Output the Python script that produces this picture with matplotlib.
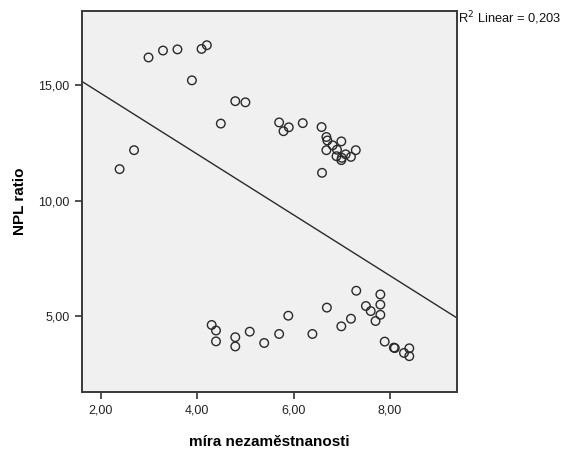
import matplotlib
matplotlib.use("Agg")
import matplotlib.pyplot as plt
from matplotlib.ticker import FuncFormatter

plt.rcParams['font.family'] = ['Liberation Sans', 'DejaVu Sans']

# Data
unemployment = [2.39, 2.69, 2.99, 3.29, 3.59, 4.09, 4.20, 3.89, 4.79, 5.00, 4.49,
                5.70, 5.79, 5.90, 6.19, 6.58, 6.59, 6.68, 6.70, 6.68, 6.81, 6.90,
                6.99, 6.89, 6.99, 7.00, 7.08, 7.19, 7.29,
                4.30, 4.39, 4.39, 4.79, 4.79, 5.09, 5.39, 5.70, 5.89, 6.39,
                6.69, 6.99, 7.19, 7.30, 7.50, 7.60, 7.80, 7.80, 7.80, 7.70,
                7.89, 8.08, 8.10, 8.29, 8.40, 8.40]
npl_ratio = [11.36, 12.18, 16.19, 16.49, 16.54, 16.56, 16.72, 15.20, 14.30, 14.25, 13.33,
             13.38, 13.00, 13.17, 13.35, 13.18, 11.20, 12.75, 12.60, 12.18, 12.39, 12.20,
             12.56, 11.92, 11.75, 11.85, 12.00, 11.89, 12.18,
             4.62, 4.38, 3.91, 4.09, 3.69, 4.33, 3.84, 4.23, 5.02, 4.23,
             5.37, 4.56, 4.89, 6.10, 5.44, 5.22, 5.94, 5.50, 5.06, 4.79,
             3.90, 3.64, 3.62, 3.41, 3.61, 3.27]
fit_intercept = 17.27
fit_slope = -1.315
r2_text = "R$^2$ Linear = 0,203"
x_ticks = [2, 4, 6, 8]
y_ticks = [5, 10, 15]
x_range = (1.61, 9.39)
y_range = (1.72, 18.2)

fig = plt.figure(figsize=(5.62, 4.5), dpi=100)
ax = fig.add_axes([82/562, 1 - 392/450, 375/562, 381/450])
ax.set_facecolor('#F0F0F0')

ax.scatter(unemployment, npl_ratio, s=38, facecolors='none', edgecolors='#2a2a2a',
           linewidths=1.0, zorder=3)

lx = list(x_range)
ly = [fit_intercept + fit_slope * v for v in lx]
ax.plot(lx, ly, color='#2a2a2a', linewidth=1.0, zorder=2)

ax.set_xlim(*x_range)
ax.set_ylim(*y_range)
ax.set_xticks(x_ticks)
ax.set_yticks(y_ticks)
fmt = FuncFormatter(lambda v, p: f"{v:.2f}".replace('.', ','))
ax.xaxis.set_major_formatter(fmt)
ax.yaxis.set_major_formatter(fmt)
ax.tick_params(direction='out', length=5, width=1.2, color='#333333',
               labelsize=9, labelcolor='#222222', pad=4)

for s in ax.spines.values():
    s.set_color('#3a3a3a')
    s.set_linewidth(1.4)

ax.set_xlabel('míra nezaměstnanosti', fontsize=11, fontweight='bold', labelpad=13)
ax.set_ylabel('NPL ratio', fontsize=11, fontweight='bold', labelpad=8)

fig.text(458/562, 1 - 18/450, r2_text, fontsize=9.3, ha='left', va='center',
         color='#111111')

fig.savefig('out.png', dpi=100)
